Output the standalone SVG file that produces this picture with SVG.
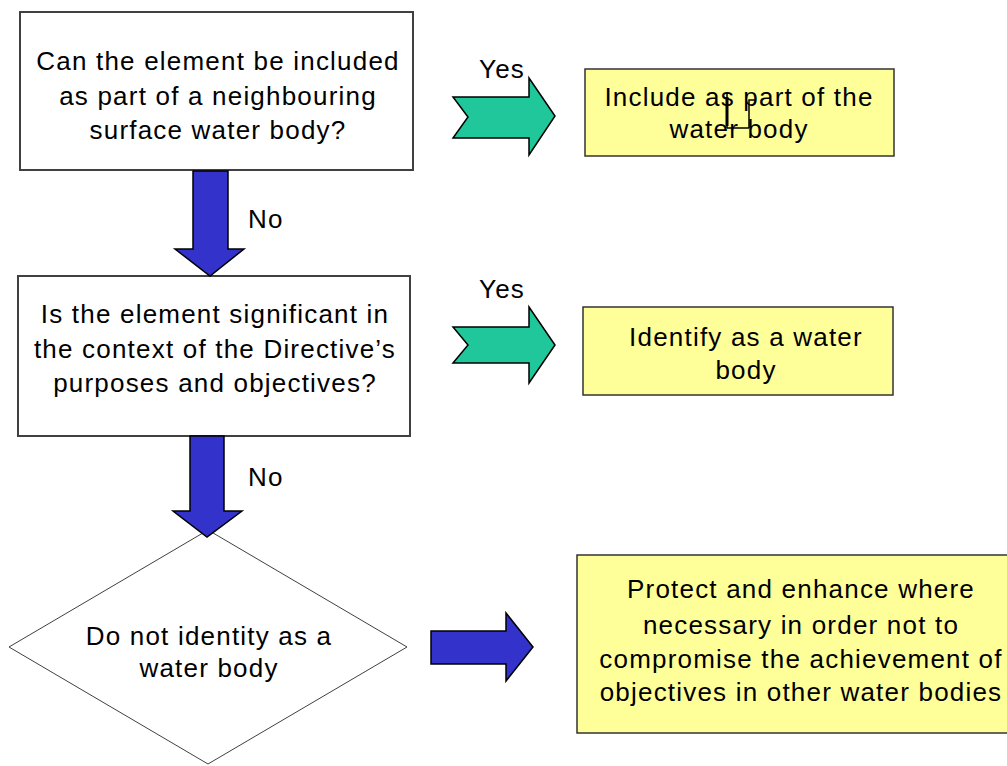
<svg xmlns="http://www.w3.org/2000/svg" width="1007" height="766" viewBox="0 0 1007 766">
<style>
.box{fill:#ffffff;stroke:#404040;stroke-width:2}
.ybox{fill:#ffff99;stroke:#333333;stroke-width:1.5}
.t{font-family:"Liberation Sans",Arial,sans-serif;font-size:26px;letter-spacing:1.2px;fill:#000;text-anchor:middle}
.l{font-family:"Liberation Sans",Arial,sans-serif;font-size:26px;letter-spacing:1.2px;fill:#000}
.blue{fill:#3333cc;stroke:#000;stroke-width:1.5;stroke-linejoin:miter}
.green{fill:#1fc79a;stroke:#000;stroke-width:1.5}
</style>
<rect width="1007" height="766" fill="#ffffff"/>
<g id="q1">
<rect class="box" x="20" y="12" width="393" height="158"/>
<text class="t" x="218" y="70">Can the element be included</text>
<text class="t" x="218" y="105">as part of a neighbouring</text>
<text class="t" x="218" y="139">surface water body?</text>
</g>
<g id="q2">
<rect class="box" x="18" y="276" width="392" height="160"/>
<text class="t" x="215" y="323">Is the element significant in</text>
<text class="t" x="215" y="358">the context of the Directive’s</text>
<text class="t" x="215" y="392">purposes and objectives?</text>
</g>
<g id="r1">
<rect class="ybox" x="585" y="69" width="309" height="87"/>
<text class="t" x="739" y="106">Include as part of the</text>
<text class="t" x="739" y="138">water body</text>
<path d="M727 93V128M727 128H749M749 128V100H755" fill="none" stroke="#000" stroke-width="1.5"/>
<path d="M727 97V126" fill="none" stroke="#000" stroke-width="3"/>
</g>
<g id="r2">
<rect class="ybox" x="583" y="307" width="310" height="88"/>
<text class="t" x="746" y="346">Identify as a water</text>
<text class="t" x="746" y="379">body</text>
</g>
<g id="d1">
<polygon points="208,530 407,647 208,764 9,647" fill="#ffffff" stroke="#404040" stroke-width="1"/>
<text class="t" x="209" y="645">Do not identity as a</text>
<text class="t" x="209" y="677">water body</text>
</g>
<g id="r3">
<rect class="ybox" x="577" y="555" width="440" height="178"/>
<text class="t" x="801" y="598">Protect and enhance where</text>
<text class="t" x="801" y="634">necessary in order not to</text>
<text class="t" x="801" y="668">compromise the achievement of</text>
<text class="t" x="801" y="701">objectives in other water bodies</text>
</g>
<g id="connectors">
<polygon class="blue" points="193,171 228,171 228,249 244,249 210,276 175,249 193,249"/>
<polygon class="blue" points="190,436 224,436 224,511 242,511 207,537 173,511 190,511"/>
<polygon class="blue" points="431,631 506,631 506,613 533,647 506,681 506,664 431,664"/>
<polygon class="green" points="453,97 529,97 529,78 555,116 529,155 529,138 453,138 468,117"/>
<polygon class="green" points="453,327 529,327 529,307 555,345 529,383 529,363 453,363 468,345"/>
<text class="l" x="479" y="78">Yes</text>
<text class="l" x="479" y="298">Yes</text>
<text class="l" x="248" y="228">No</text>
<text class="l" x="248" y="486">No</text>
</g>
</svg>
